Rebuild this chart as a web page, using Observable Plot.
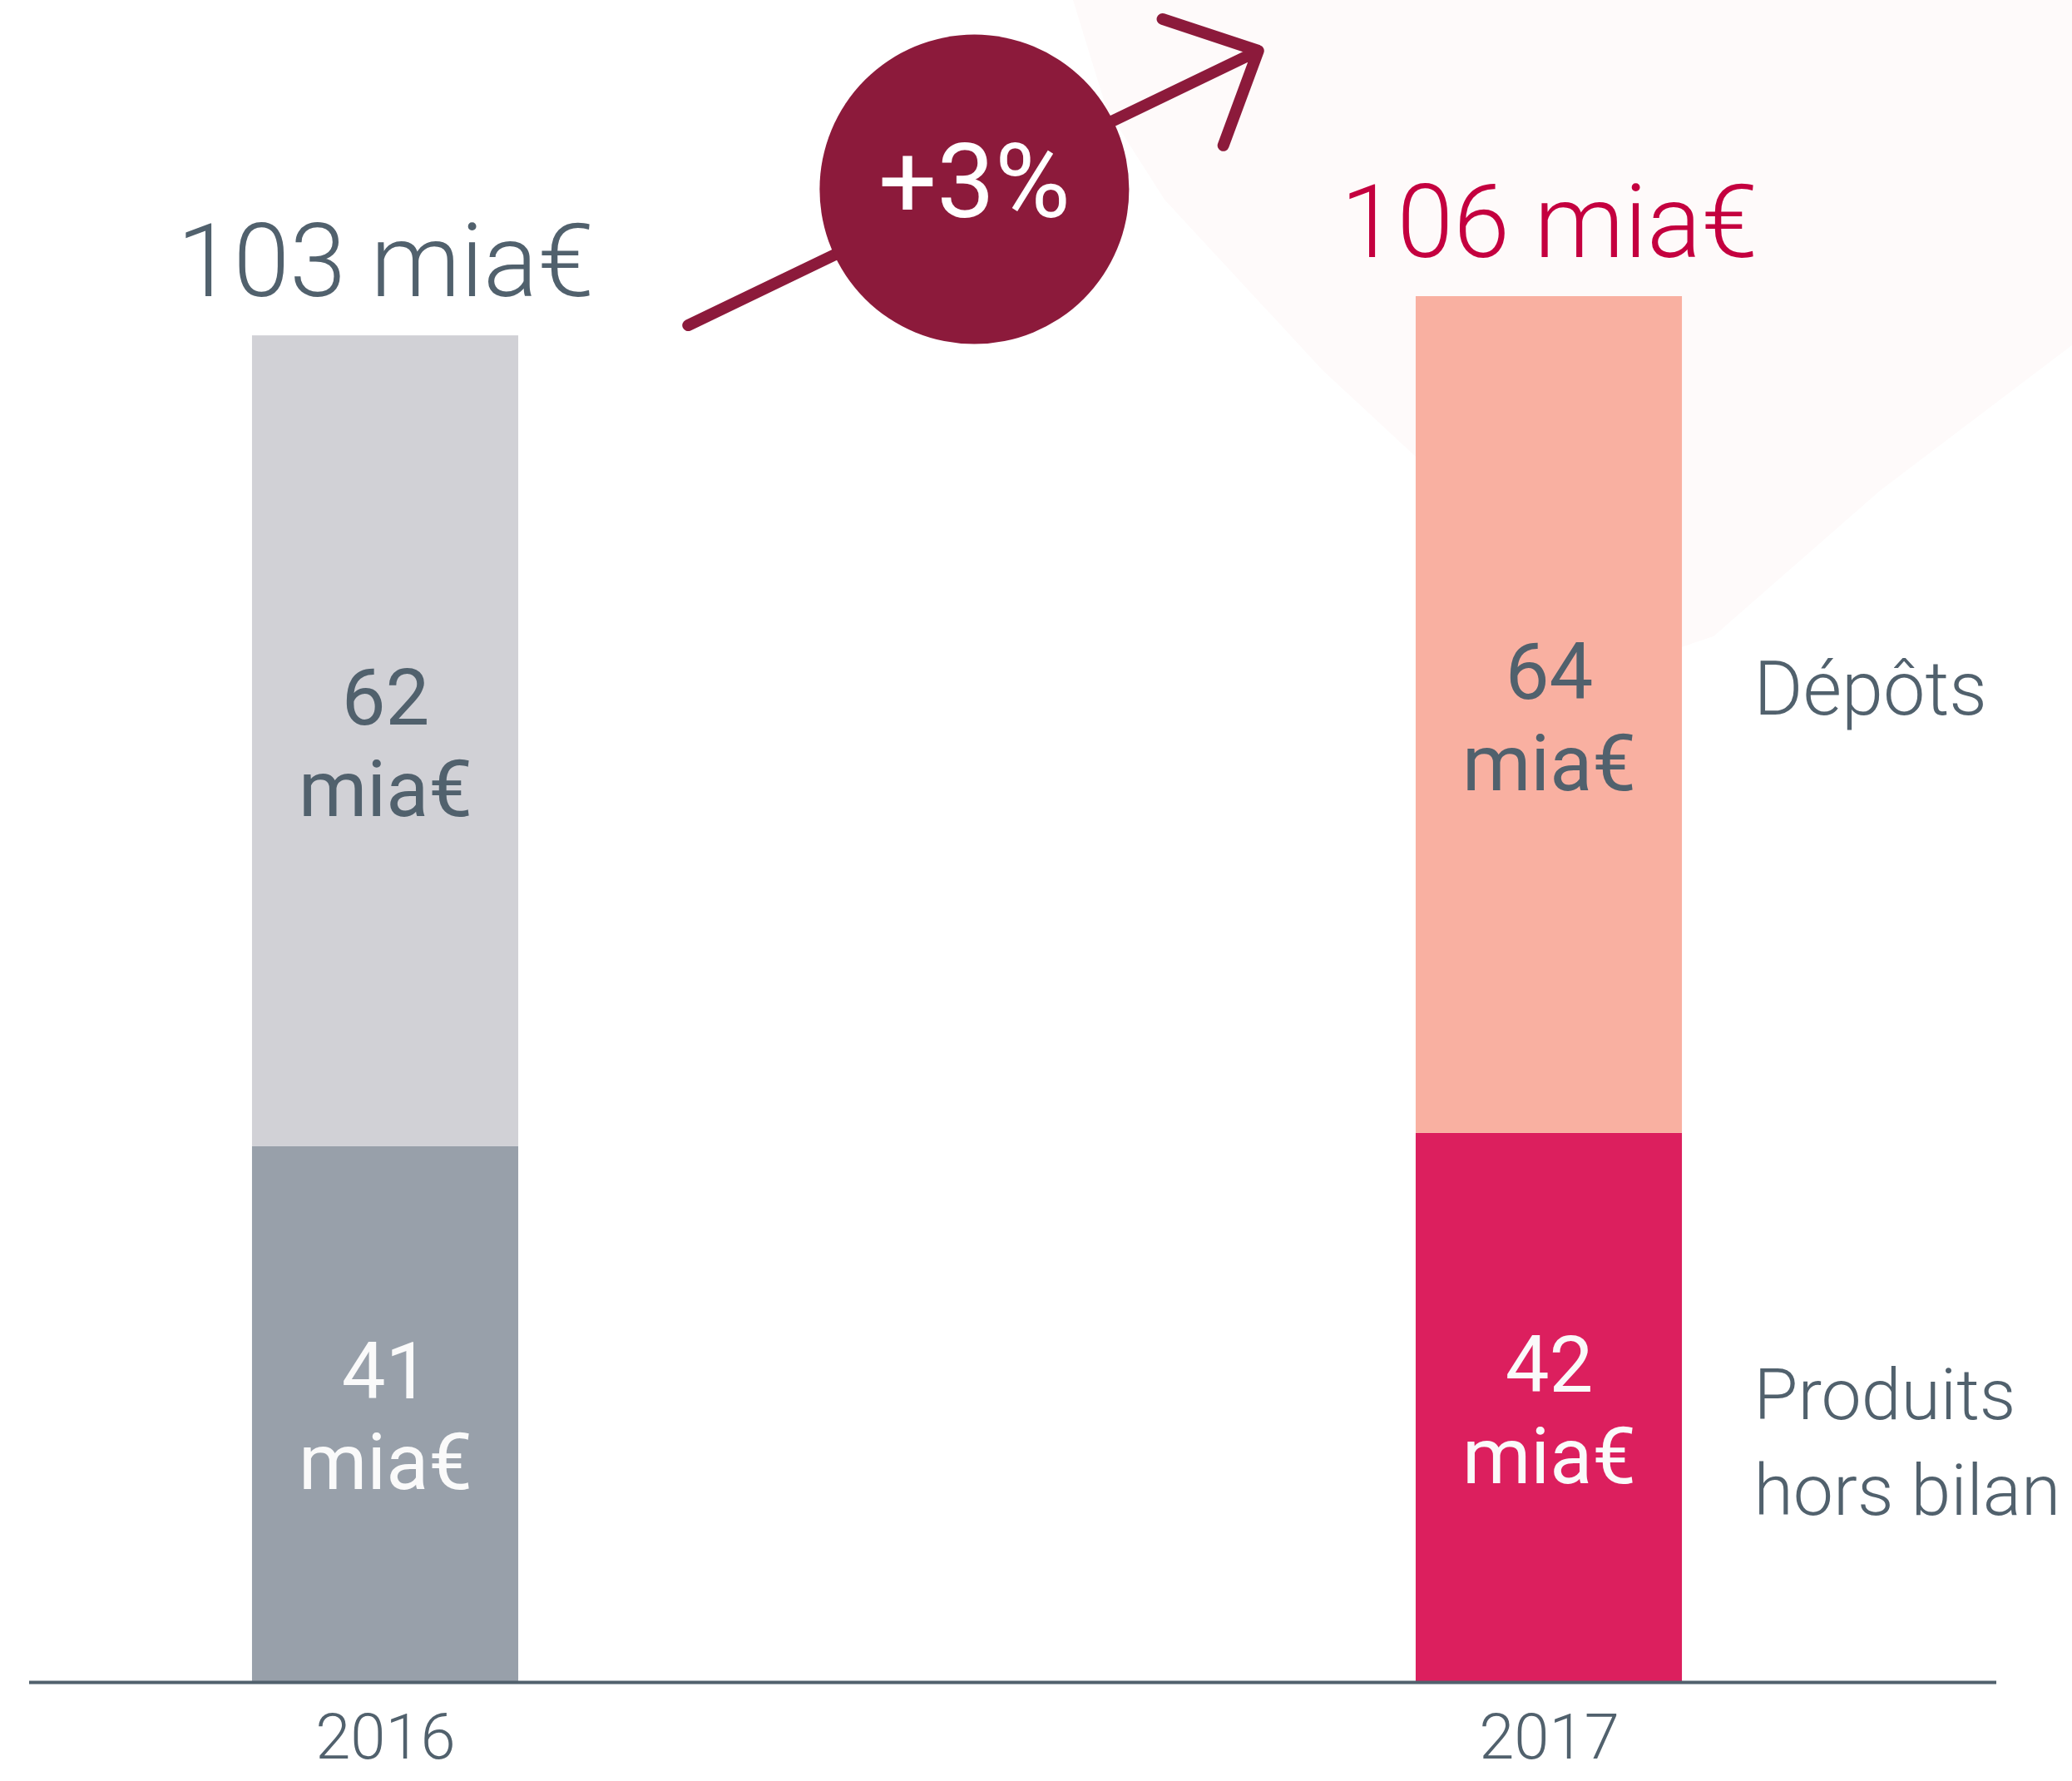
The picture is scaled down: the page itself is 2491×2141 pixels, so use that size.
<!DOCTYPE html>
<html>
<head>
<meta charset="utf-8">
<script src="https://cdn.jsdelivr.net/npm/d3@7"></script>
<script src="https://cdn.jsdelivr.net/npm/@observablehq/plot@0.6"></script>
<style>
  html, body { margin: 0; padding: 0; background: #ffffff; }
  #wrap { position: relative; width: 2491px; height: 2141px; overflow: hidden; }
  #bgshape {
    position: absolute; left: 0; top: 0; width: 2491px; height: 2141px;
    background: #fefafa;
    clip-path: polygon(1290px 0px, 1330px 130px, 1400px 240px, 1590px 445px, 1800px 640px, 1940px 760px, 2000px 785px, 2060px 765px, 2260px 590px, 2491px 415px, 2491px 0px);
  }
  #chart { position: absolute; left: 0; top: 0; }
</style>
</head>
<body>
<div id="wrap"><div id="bgshape"></div><div id="chart"></div></div>
<script>
// ---- data ----
const years = [2016, 2017];
const segments = ["Produits hors bilan", "Dépôts"];
const segmentLabels = ["Produits\nhors bilan", "Dépôts"];
const offBalance = [41, 42];
const deposits = [62, 64];
const totals = [103, 106];
const totalLabels = ["103 mia€", "106 mia€"];
const unit = "mia€";
const growthLabel = "+3%";
// annotation positions in data units (x: year, y: mia€)
const growthArrow = [{x1: 2016.26, y1: 103.8, x2: 2016.75, y2: 124.8}];
const growthBadge = [{x: 2016.506, y: 114.2}];

// ---- styles ----
const fills = {
  2016: {"Produits hors bilan": "#98a0aa", "Dépôts": "#d1d1d6"},
  2017: {"Produits hors bilan": "#dc1f5e", "Dépôts": "#f9b0a1"}
};
const slate = "#51616d";
const hw = 0.1144; // half bar width in year units

// ---- tables ----
const rows = years.flatMap((yr, i) => {
  const a = offBalance[i], b = deposits[i];
  return [
    {year: yr, segment: segments[0], value: a, y1: 0, y2: a},
    {year: yr, segment: segments[1], value: b, y1: a, y2: a + b}
  ];
});
const totalRows = years.map((yr, i) => ({year: yr, total: totals[i], label: totalLabels[i]}));
const last = years.length - 1;
const rightRows = segments.map((s, k) => ({
  year: years[last], segment: s, label: segmentLabels[k],
  mid: k === 0 ? offBalance[last] / 2 : offBalance[last] + deposits[last] / 2
}));

const chart = Plot.plot({
  width: 2491,
  height: 2141,
  marginLeft: 35,
  marginRight: 91,
  marginTop: 356,
  marginBottom: 119,
  style: {fontFamily: "Roboto, 'Open Sans', sans-serif", background: "transparent"},
  x: {domain: [2016, 2017], range: [463, 1862], axis: null},
  y: {domain: [0, 106], range: [2022, 356], axis: null},
  marks: [
    Plot.rect(rows, {
      x1: d => d.year - hw, x2: d => d.year + hw,
      y1: "y1", y2: "y2",
      fill: d => fills[d.year][d.segment]
    }),
    Plot.ruleY([0], {stroke: slate, strokeWidth: 4}),
    Plot.text(rows, {
      x: "year", y: d => (d.y1 + d.y2) / 2,
      text: d => `${d.value}\n${unit}`,
      fill: d => d.segment === segments[1] ? slate : "#fafafa",
      fontSize: 94, fontWeight: 400, lineHeight: 1.17
    }),
    Plot.text(totalRows, {
      x: "year", y: "total", text: "label",
      fill: d => d.year === 2017 ? "#c4003f" : slate,
      fontSize: 122, fontWeight: 300, lineAnchor: "bottom", dy: -48
    }),
    Plot.text(rightRows.filter(d => d.segment === segments[1]), {
      x: "year", y: "mid", text: "label", textAnchor: "start",
      dx: 246, dy: -29, fill: slate, fontSize: 90, fontWeight: 300
    }),
    Plot.text(rightRows.filter(d => d.segment === segments[0]), {
      x: "year", y: "mid", text: "label", textAnchor: "start",
      dx: 246, dy: 34, fill: slate, fontSize: 86, fontWeight: 300, lineHeight: 1.34
    }),
    Plot.arrow(growthArrow, {
      x1: "x1", y1: "y1", x2: "x2", y2: "y2",
      stroke: "#8c1a3b", strokeWidth: 14, headAngle: 88, headLength: 13
    }),
    Plot.dot(growthBadge, {x: "x", y: "y", r: 186, fill: "#8c1a3b"}),
    Plot.text(growthBadge, {
      x: "x", y: "y", text: () => growthLabel, fill: "#ffffff",
      fontSize: 124, fontWeight: 400, dy: -6
    }),
    Plot.axisX({
      ticks: years, tickFormat: d => String(d), tickSize: 0, tickPadding: 38,
      fontSize: 76, fontWeight: 300, color: slate, fill: slate, label: null
    })
  ]
});
document.getElementById("chart").appendChild(chart);
</script>
</body>
</html>
